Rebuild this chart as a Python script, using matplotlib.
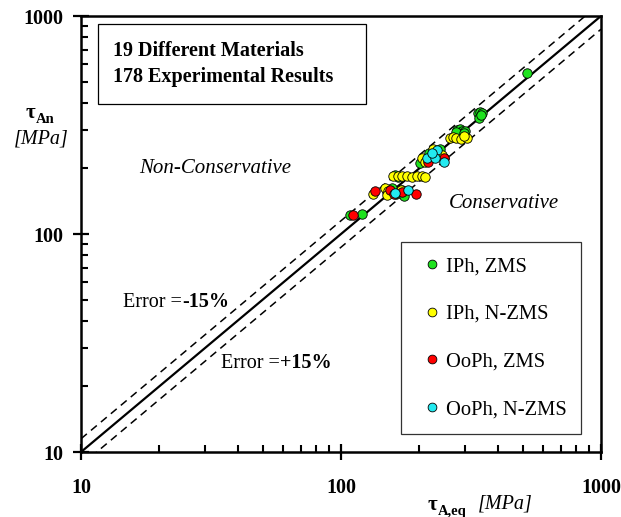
import matplotlib
matplotlib.use("Agg")
import matplotlib.pyplot as plt
import numpy as np
from matplotlib.patches import Rectangle
from matplotlib.ticker import NullFormatter, FixedLocator, FixedFormatter

plt.rcParams.update({
    "font.family": ["Liberation Serif", "DejaVu Serif"],
    "axes.unicode_minus": False,
})

iph_zms_x = [518, 335, 343, 348, 340, 345, 280, 287, 292, 283, 276, 300, 296, 161, 166, 172, 163, 150, 157, 120, 108, 226, 218, 210, 202, 240, 168, 174]
iph_zms_y = [546, 360, 364, 358, 340, 352, 300, 304, 296, 292, 293, 298, 290, 187, 182, 160, 152, 156, 163, 124, 122, 244, 236, 218, 212, 246, 158, 150]
iph_nzms_x = [262, 270, 278, 290, 306, 296, 226, 205, 250, 210, 244, 158, 165, 172, 180, 188, 196, 204, 211, 133, 148, 152, 170, 150]
iph_nzms_y = [275, 278, 276, 274, 275, 282, 246, 224, 224, 213, 230, 184, 184, 185, 184, 183, 184, 184, 183, 152, 162, 158, 159, 151]
ooph_zms_x = [111, 135, 154, 171, 194, 217, 248, 160]
ooph_zms_y = [122, 158, 160, 156, 152, 215, 222, 152]
ooph_nzms_x = [233, 214, 230, 248, 161, 181, 223]
ooph_nzms_y = [243, 222, 222, 215, 154, 159, 236]

series_labels = ["IPh, ZMS", "IPh, N-ZMS", "OoPh, ZMS", "OoPh, N-ZMS"]
series_colors = ["#1ee21e", "#ffff00", "#ff0000", "#22eaf0"]

major_ticks = [10, 100, 1000]
major_labels = ["10", "100", "1000"]
minor_ticks = [20, 30, 40, 50, 60, 70, 80, 90, 200, 300, 400, 500, 600, 700, 800, 900]

line_x = [10, 1000]
error_band = 0.15

FS = 14.5

fig = plt.figure(figsize=(6.21, 5.17), dpi=100)
W, H = 621, 517
ax = fig.add_axes([81 / W, 1 - 452 / H, 520 / W, 436 / H])
ax.set_xscale("log")
ax.set_yscale("log")
ax.set_xlim(10, 1000)
ax.set_ylim(10, 1000)

lx = np.array(line_x, dtype=float)
ax.plot(lx, lx, color="black", lw=1.6, zorder=2)
ax.plot(lx, lx * (1 + error_band), color="black", lw=1.1, ls=(0, (5, 3.5)), zorder=2)
ax.plot(lx, lx / (1 + error_band), color="black", lw=1.1, ls=(0, (5, 3.5)), zorder=2)

xs = [iph_zms_x, iph_nzms_x, ooph_zms_x, ooph_nzms_x]
ys = [iph_zms_y, iph_nzms_y, ooph_zms_y, ooph_nzms_y]
for k in range(4):
    ax.plot(xs[k], ys[k], "o", ms=6.8, mfc=series_colors[k], mec="black", mew=0.6,
            ls="none", zorder=3 + k)

for sp in ax.spines.values():
    sp.set_linewidth(1.8)

for axis in (ax.xaxis, ax.yaxis):
    axis.set_major_locator(FixedLocator(major_ticks))
    axis.set_major_formatter(FixedFormatter(major_labels))
    axis.set_minor_locator(FixedLocator(minor_ticks))
    axis.set_minor_formatter(NullFormatter())

ax.tick_params(which="major", direction="inout", length=11, width=1.6)
ax.tick_params(which="minor", direction="in", length=5, width=1.5)
ax.tick_params(axis="x", which="major", pad=13)
ax.tick_params(axis="y", which="major", pad=7)
for lab in ax.get_xticklabels() + ax.get_yticklabels():
    lab.set_fontweight("bold")
    lab.set_fontsize(FS)

# info box
ax.add_patch(Rectangle((0.0327, 0.798), 0.515, 0.183, transform=ax.transAxes,
                       fc="white", ec="black", lw=0.9, zorder=9))
ax.text(0.0615, 0.89, "19 Different Materials\n178 Experimental Results",
        transform=ax.transAxes, fontsize=FS, fontweight="bold", va="center", ha="left",
        linespacing=1.45, zorder=10)

ax.text(0.258, 0.651, "Non-Conservative", transform=ax.transAxes, fontsize=15,
        style="italic", ha="center", va="center")
ax.text(0.813, 0.571, "Conservative", transform=ax.transAxes, fontsize=15,
        style="italic", ha="center", va="center")

t1 = ax.text(0.081, 0.344, "Error =", transform=ax.transAxes, fontsize=FS,
             ha="left", va="center")
ax.annotate("-15%", xy=(1, 0), xycoords=t1, fontsize=FS, fontweight="bold",
            ha="left", va="bottom")
t2 = ax.text(0.269, 0.204, "Error =", transform=ax.transAxes, fontsize=FS,
             ha="left", va="center")
ax.annotate("+15%", xy=(1, 0), xycoords=t2, fontsize=FS, fontweight="bold",
            ha="left", va="bottom")

# legend
handles = [ax.plot([], [], "o", ms=6.3, mfc=c, mec="black", mew=0.6, ls="none")[0]
           for c in series_colors]
leg = ax.legend(handles, series_labels, loc="upper left", bbox_to_anchor=(0.6154, 0.4817),
                fontsize=14.8, frameon=True, fancybox=False, edgecolor="black",
                handlelength=1.6, handletextpad=-0.15, labelspacing=1.38,
                borderpad=0.72, borderaxespad=0.0, markerscale=1.0)
leg.get_frame().set_linewidth(0.9)
leg.set_zorder(10)

# axis titles
ty = fig.text(30 / W, 1 - 118 / H, "\u03c4", fontsize=15, fontweight="bold",
              ha="center", va="baseline")
ax.annotate("An", xy=(1, 0), xycoords=ty, xytext=(0.5, -2), textcoords="offset points",
            fontsize=10.5, fontweight="bold", ha="left", va="bottom")
fig.text(41 / W, 1 - 143 / H, "[MPa]", fontsize=FS, style="italic",
         ha="center", va="baseline")

tx = fig.text(432 / W, 1 - 510 / H, "\u03c4", fontsize=15, fontweight="bold",
              ha="center", va="baseline")
ax.annotate("A,eq", xy=(1, 0), xycoords=tx, xytext=(0.5, -2), textcoords="offset points",
            fontsize=10.5, fontweight="bold", ha="left", va="bottom")
fig.text(478 / W, 1 - 508 / H, "[MPa]", fontsize=FS, style="italic",
         ha="left", va="baseline")

fig.savefig("out.png", dpi=100, facecolor="white")
